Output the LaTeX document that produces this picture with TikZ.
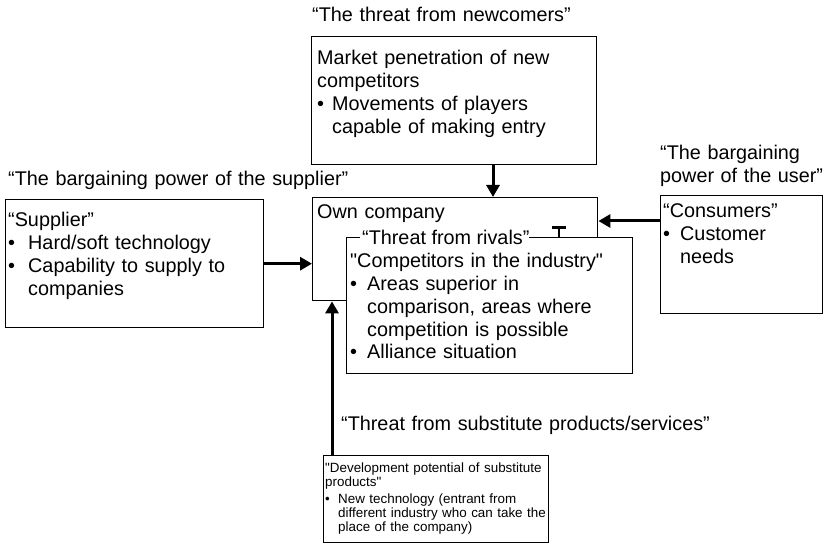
\documentclass[tikz,border=0pt]{standalone}
\usepackage{fontspec}
% keep the typed " as a straight quote
\setmainfont{Liberation Sans}[Ligatures=TeXOff]
\usetikzlibrary{arrows.meta,calc}
% bullet with hanging indent, and the matching indent for continuation lines
\newcommand\bl[1][16bp]{\makebox[#1][l]{•}}
\newcommand\ind[1][16bp]{\hspace*{#1}}
\begin{document}
\begin{tikzpicture}[x=1bp,y=-1bp,
  frame/.style={draw, rectangle, line width=1.4bp, fill=white, inner sep=0pt, anchor=north west},
  txt/.style={anchor=base west, inner sep=0pt, text width=420bp, align=left,
              font=\fontsize{19.8bp}{22.7bp}\selectfont},
  small/.style={txt, font=\fontsize{13.4bp}{14bp}\selectfont},
  flow/.style={line width=3bp, -{Triangle[length=12bp,width=13bp]}}]
\fill[white] (0,0) rectangle (824,545);
\useasboundingbox (0,0) rectangle (824,545);

% boxes
\node[frame, minimum width=285bp, minimum height=128bp] (entry) at (311,36) {};
\node[frame, minimum width=258bp, minimum height=128bp] (supply) at (5,199) {};
\node[frame, minimum width=162bp, minimum height=118bp] (cons) at (660,195) {};
\node[frame, minimum width=285bp, minimum height=103bp] (own) at (312,197) {};
\node[frame, minimum width=286bp, minimum height=136bp] (rivals) at (346,237) {};
\node[frame, minimum width=225bp, minimum height=87bp] (subst) at (323,455) {};

% label breaking the top border of the rivals box
\node[anchor=base west, inner sep=0pt, fill=white,
      font=\fontsize{19.8bp}{22.7bp}\selectfont] (rivalsL) at (360,245)
  {\hspace{2bp}“Threat from rivals”\hspace{13bp}};
\draw[line width=3bp] (552,228) -- (566,228);
\draw[line width=2.5bp] (559,228) -- (559,237);

% box contents
\node[txt] (entryT) at (317,65) {Market penetration of new\\competitors\\
  \bl[15bp]Movements of players\\\ind[15bp]capable of making entry};
\node[txt] (ownT) at (317,219) {Own company};
\node[txt] (rivalsT) at (350,268) {"Competitors in the industry"\\
  \bl[17bp]Areas superior in\\\ind[17bp]comparison, areas where\\
  \ind[17bp]competition is possible\\\bl[17bp]Alliance situation};
\node[txt] (supplyT) at (8,227) {“Supplier”\\\bl[20bp]Hard/soft technology\\
  \bl[20bp]Capability to supply to\\\ind[20bp]companies};
\node[txt] (consT) at (663,218) {“Consumers”\\\bl[17bp]Customer\\\ind[17bp]needs};
\node[small] (substT) at (325,472) {"Development potential of substitute\\products"\\[3bp]
  \bl[13bp]New technology (entrant from\\\ind[13bp]different industry who can take the\\
  \ind[13bp]place of the company)};

% force labels
\node[txt] (entryL) at (312,22) {“The threat from newcomers”};
\node[txt] (supplyL) at (8,186) {“The bargaining power of the supplier”};
\node[txt] (consL) at (660,159.5) {“The bargaining\\power of the user”};
\node[txt] (substL) at (341,430) {“Threat from substitute products/services”};

% connectors into the own company
\coordinate (entryOut) at ($(entry.south west)+(182,0)$);
\draw[flow] (entryOut) -- (entryOut |- own.north);
\draw[flow] (supply.east) -- (supply.east -| own.west);
\coordinate (consOut) at ($(cons.north west)+(0,26)$);
\draw[flow] (consOut) -- (consOut -| own.east);
\coordinate (substOut) at ($(subst.north west)+(9,0)$);
\draw[flow] (substOut) -- (substOut |- own.south);
\end{tikzpicture}
\end{document}
